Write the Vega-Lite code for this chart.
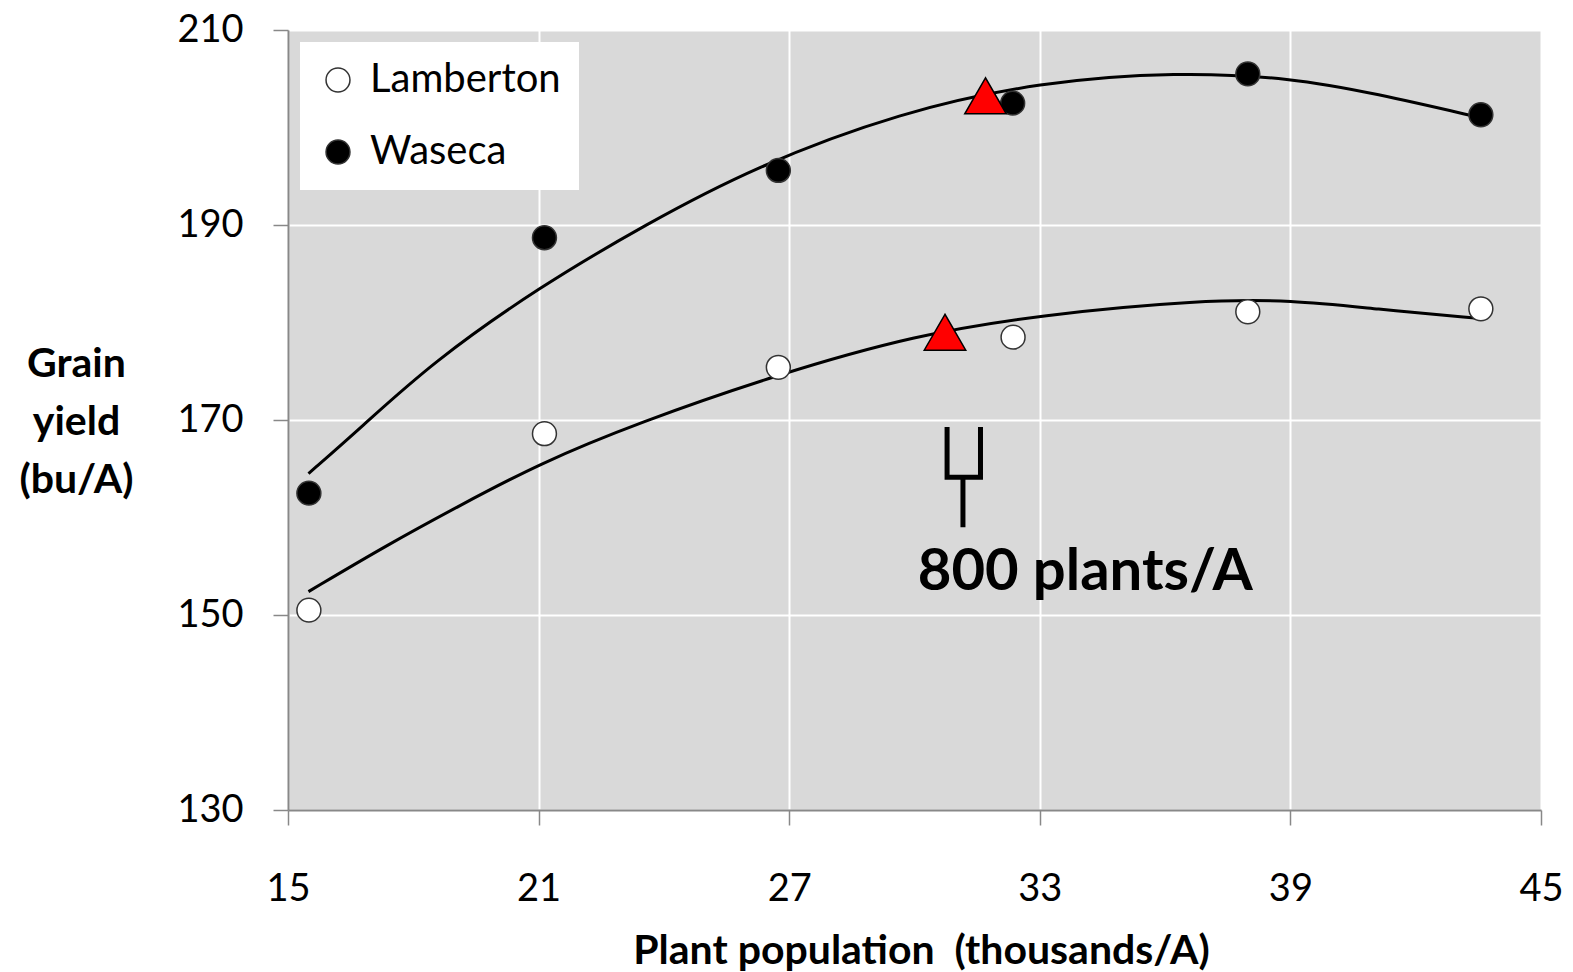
{
  "$schema": "https://vega.github.io/schema/vega-lite/v6.json",
  "width": 1253,
  "height": 780,
  "autosize": {"type": "none"},
  "padding": {"left": 288, "top": 30, "right": 32, "bottom": 162},
  "background": "white",
  "config": {"view": {"fill": "#d9d9d9", "stroke": null}, "font": "Lato"},
  "datasets": {
    "curves": [
      {"site": "Waseca", "x": 15.49, "y": 164.5},
      {"site": "Waseca", "x": 16.74, "y": 169.2},
      {"site": "Waseca", "x": 18.45, "y": 175.9},
      {"site": "Waseca", "x": 21.0, "y": 183.6},
      {"site": "Waseca", "x": 23.58, "y": 190.1},
      {"site": "Waseca", "x": 26.14, "y": 195.9},
      {"site": "Waseca", "x": 29.66, "y": 201.6},
      {"site": "Waseca", "x": 33.03, "y": 204.7},
      {"site": "Waseca", "x": 36.29, "y": 205.7},
      {"site": "Waseca", "x": 39.04, "y": 205.1},
      {"site": "Waseca", "x": 41.02, "y": 203.5},
      {"site": "Waseca", "x": 43.56, "y": 201.0},
      {"site": "Lamberton", "x": 15.49, "y": 152.4},
      {"site": "Lamberton", "x": 17.38, "y": 157.2},
      {"site": "Lamberton", "x": 19.1, "y": 161.2},
      {"site": "Lamberton", "x": 21.0, "y": 165.5},
      {"site": "Lamberton", "x": 23.37, "y": 169.7},
      {"site": "Lamberton", "x": 26.74, "y": 174.7},
      {"site": "Lamberton", "x": 30.0, "y": 178.7},
      {"site": "Lamberton", "x": 33.03, "y": 180.8},
      {"site": "Lamberton", "x": 36.86, "y": 182.3},
      {"site": "Lamberton", "x": 39.04, "y": 182.3},
      {"site": "Lamberton", "x": 41.02, "y": 181.4},
      {"site": "Lamberton", "x": 43.56, "y": 180.4}
    ],
    "points": [
      {"site": "Lamberton", "x": 15.5, "y": 150.5},
      {"site": "Lamberton", "x": 21.14, "y": 168.6},
      {"site": "Lamberton", "x": 26.74, "y": 175.4},
      {"site": "Lamberton", "x": 32.36, "y": 178.5},
      {"site": "Lamberton", "x": 37.98, "y": 181.1},
      {"site": "Lamberton", "x": 43.56, "y": 181.4},
      {"site": "Waseca", "x": 15.5, "y": 162.5},
      {"site": "Waseca", "x": 21.14, "y": 188.7},
      {"site": "Waseca", "x": 26.74, "y": 195.6},
      {"site": "Waseca", "x": 32.35, "y": 202.5},
      {"site": "Waseca", "x": 37.98, "y": 205.5},
      {"site": "Waseca", "x": 43.56, "y": 201.3}
    ],
    "optima": [
      {"site": "Waseca", "x": 31.7, "y": 203.25},
      {"site": "Lamberton", "x": 30.73, "y": 179.0}
    ],
    "bracket": [
      {"o": 1, "x": 30.78, "y": 169.28},
      {"o": 2, "x": 30.78, "y": 164.14},
      {"o": 3, "x": 31.58, "y": 164.14},
      {"o": 4, "x": 31.58, "y": 169.28}
    ],
    "stem": [{"x": 31.16, "y": 164.14, "y2": 159.0}],
    "label": [{"x": 34.09, "y": 152.6, "text": "800 plants/A"}]
  },
  "layer": [
    {
      "data": {"name": "curves"},
      "mark": {"type": "line", "color": "black", "strokeWidth": 3, "interpolate": "basis"},
      "encoding": {
        "x": {
          "field": "x", "type": "quantitative",
          "scale": {"domain": [15, 45], "nice": false, "zero": false},
          "axis": {
            "title": "Plant population\u00a0 (thousands/A)",
            "values": [15, 21, 27, 33, 39, 45],
            "titleFont": "Lato", "titleFontSize": 41, "titleFontWeight": "bold", "titleColor": "black",
            "titleX": 633, "titleY": 153, "titleAnchor": null, "titleAlign": "center", "titleBaseline": "alphabetic",
            "labelFont": "Lato", "labelFontSize": 38, "labelColor": "black",
            "labelBaseline": "alphabetic", "labelPadding": 75, "labelFlush": false, "labelOverlap": false,
            "tickSize": 15, "tickColor": "#888888", "tickWidth": 1.5,
            "domainColor": "#888888", "domainWidth": 2,
            "grid": true, "gridColor": "white", "gridWidth": 2
          }
        },
        "y": {
          "field": "y", "type": "quantitative",
          "scale": {"domain": [130, 210], "nice": false, "zero": false},
          "axis": {
            "title": ["Grain", "yield", "(bu/A)"],
            "values": [130, 150, 170, 190, 210],
            "titleFont": "Lato", "titleFontSize": 41, "titleFontWeight": "bold", "titleColor": "black",
            "titleAngle": 0, "titleX": -212, "titleY": 334, "titleAlign": "center", "titleBaseline": "middle",
            "titleLineHeight": 58,
            "labelFont": "Lato", "labelFontSize": 38, "labelColor": "black", "labelPadding": 30, "labelFlush": false,
            "tickSize": 15, "tickColor": "#888888", "tickWidth": 1.5,
            "domainColor": "#888888", "domainWidth": 2,
            "grid": true, "gridColor": "white", "gridWidth": 2
          }
        },
        "detail": {"field": "site"}
      }
    },
    {
      "data": {"name": "points"},
      "mark": {"type": "circle", "size": 572, "opacity": 1, "stroke": "#333333", "strokeWidth": 1.5},
      "encoding": {
        "x": {"field": "x", "type": "quantitative"},
        "y": {"field": "y", "type": "quantitative"},
        "fill": {
          "field": "site", "type": "nominal",
          "scale": {"domain": ["Lamberton", "Waseca"], "range": ["white", "black"]},
          "legend": {
            "orient": "none", "legendX": 12, "legendY": 12, "title": null,
            "fillColor": "white", "padding": 18,
            "labelFont": "Lato", "labelFontSize": 40, "labelColor": "black", "labelOffset": 12, "labelLimit": 0,
            "symbolType": "circle", "symbolSize": 572, "symbolStrokeColor": "#333333", "symbolStrokeWidth": 1.5,
            "symbolOpacity": 1, "rowPadding": 32
          }
        }
      }
    },
    {
      "data": {"name": "optima"},
      "mark": {"type": "point", "shape": "triangle-up", "size": 1722, "filled": true, "fill": "#ff0000", "stroke": "black", "strokeWidth": 1.5, "opacity": 1},
      "encoding": {
        "x": {"field": "x", "type": "quantitative"},
        "y": {"field": "y", "type": "quantitative"}
      }
    },
    {
      "data": {"name": "bracket"},
      "mark": {"type": "line", "color": "black", "strokeWidth": 5, "strokeJoin": "miter", "strokeCap": "butt"},
      "encoding": {
        "x": {"field": "x", "type": "quantitative"},
        "y": {"field": "y", "type": "quantitative"},
        "order": {"field": "o", "type": "quantitative"}
      }
    },
    {
      "data": {"name": "stem"},
      "mark": {"type": "rule", "color": "black", "strokeWidth": 5},
      "encoding": {
        "x": {"field": "x", "type": "quantitative"},
        "y": {"field": "y", "type": "quantitative"},
        "y2": {"field": "y2"}
      }
    },
    {
      "data": {"name": "label"},
      "mark": {"type": "text", "font": "Lato", "fontSize": 58, "fontWeight": "bold", "align": "center", "baseline": "alphabetic", "color": "black"},
      "encoding": {
        "x": {"field": "x", "type": "quantitative"},
        "y": {"field": "y", "type": "quantitative"},
        "text": {"field": "text"}
      }
    }
  ]
}
